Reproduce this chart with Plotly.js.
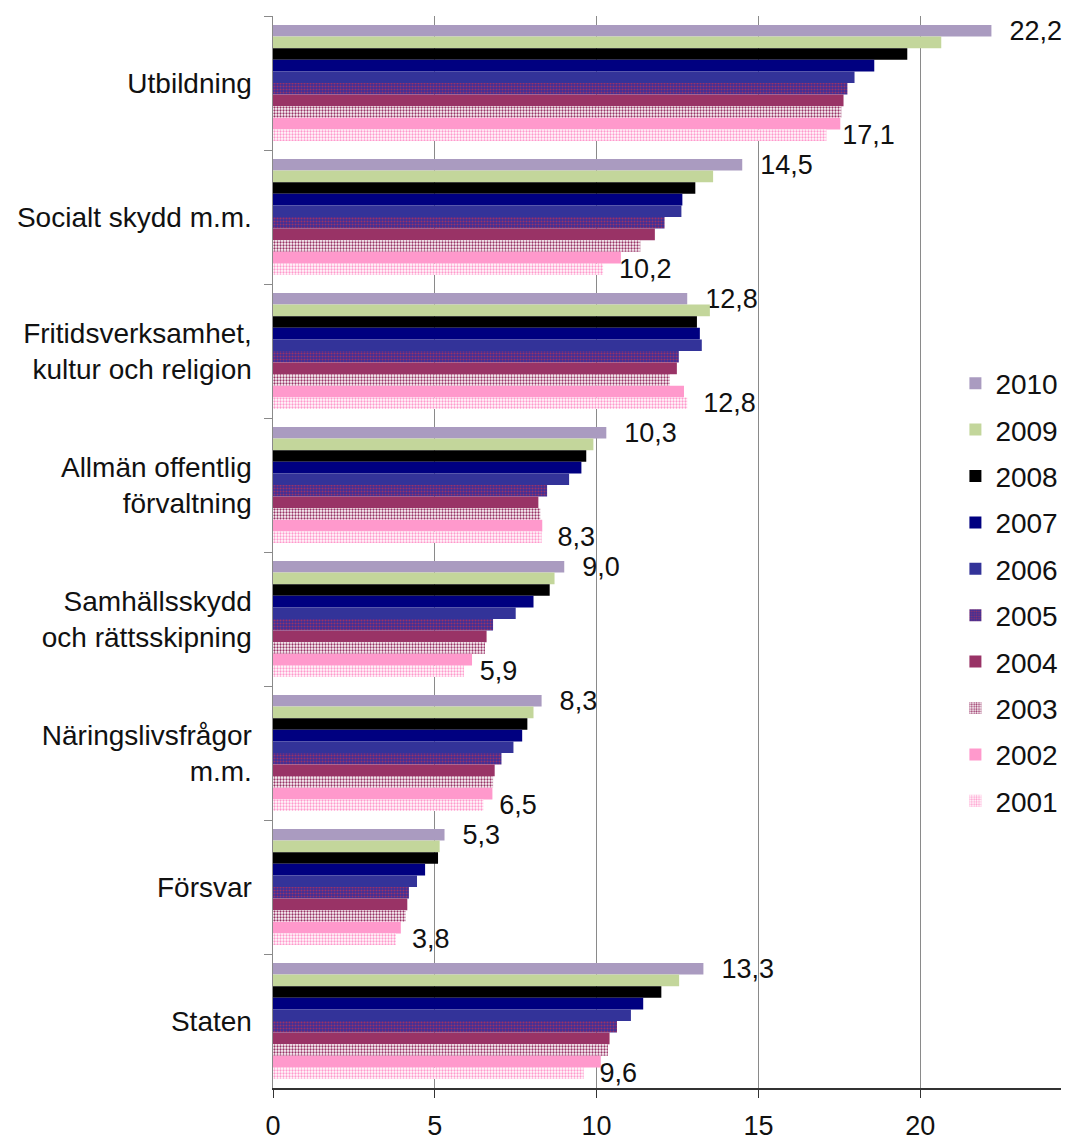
<!DOCTYPE html>
<html>
<head>
<meta charset="utf-8">
<script src="https://cdn.plot.ly/plotly-3.0.1.min.js"></script>
<style>html,body{margin:0;padding:0;background:#fff;}#chart{width:1066px;height:1145px;}</style>
</head>
<body>
<div id="chart"></div>
<script>
const categories = ["Utbildning", "Socialt skydd m.m.", "Fritidsverksamhet,<br>kultur och religion", "Allmän offentlig<br>förvaltning", "Samhällsskydd<br>och rättsskipning", "Näringslivsfrågor<br>m.m.", "Försvar", "Staten"];
const years = ["2010", "2009", "2008", "2007", "2006", "2005", "2004", "2003", "2002", "2001"];

const v2010 = [22.2, 14.5, 12.8, 10.3, 9.0, 8.3, 5.3, 13.3];
const v2009 = [20.65, 13.6, 13.5, 9.9, 8.7, 8.05, 5.15, 12.55];
const v2008 = [19.6, 13.05, 13.1, 9.68, 8.55, 7.86, 5.1, 12.0];
const v2007 = [18.58, 12.65, 13.19, 9.53, 8.05, 7.7, 4.7, 11.44];
const v2006 = [17.97, 12.62, 13.25, 9.15, 7.5, 7.43, 4.45, 11.06];
const v2005 = [17.75, 12.1, 12.54, 8.47, 6.8, 7.06, 4.2, 10.63];
const v2004 = [17.63, 11.8, 12.48, 8.2, 6.6, 6.85, 4.15, 10.4];
const v2003 = [17.56, 11.35, 12.26, 8.26, 6.55, 6.8, 4.1, 10.35];
const v2002 = [17.53, 10.75, 12.7, 8.32, 6.15, 6.78, 3.95, 10.13];
const v2001 = [17.1, 10.2, 12.8, 8.3, 5.9, 6.5, 3.8, 9.6];

const seriesValues = [v2010, v2009, v2008, v2007, v2006, v2005, v2004, v2003, v2002, v2001];
const colors = ["#AA9BC0", "#C3D69B", "#000000", "#000080", "#333399", "#663399", "#993366", "#993366", "#FF99CC", "#FF99CC"];
const patterns = [null, null, null, null, null,
  {shape: ".", fgcolor: "#993366", bgcolor: "#3d2f99", size: 3, solidity: 0.4},
  null,
  {shape: ".", fgcolor: "#993366", bgcolor: "#ffffff", size: 3, solidity: 0.45},
  null,
  {shape: ".", fgcolor: "#FF99CC", bgcolor: "#ffffff", size: 3, solidity: 0.45}];

function fmt(v) { return v.toFixed(1).replace(".", ","); }

const traces = years.map((yr, i) => {
  const vals = seriesValues[i];
  let text = null;
  if (i === 0) text = vals.map(v => "\u00a0\u00a0" + fmt(v));
  if (i === years.length - 1) text = vals.map(v => "\u00a0\u2009" + fmt(v));
  const marker = {color: colors[i], line: {width: 0}};
  if (patterns[i]) marker.pattern = patterns[i];
  const t = {
    type: "bar",
    orientation: "h",
    name: yr,
    legendgroup: yr,
    x: vals,
    y: categories,
    marker: marker,
    cliponaxis: false,
    hoverinfo: "x+name"
  };
  if (text) {
    t.text = text;
    t.textposition = "outside";
    t.constraintext = "none";
    t.textfont = {size: 27, color: "#111", family: "Liberation Sans, Arial, sans-serif"};
  } else {
    t.textposition = "none";
  }
  return t;
});

const layout = {
  width: 1066,
  height: 1145,
  margin: {l: 273, r: 3, t: 16, b: 57},
  paper_bgcolor: "#ffffff",
  plot_bgcolor: "#ffffff",
  font: {family: "Liberation Sans, Arial, sans-serif", size: 28, color: "#111"},
  barmode: "group",
  bargap: 0.134,
  bargroupgap: 0,
  showlegend: true,
  legend: {
    x: 0.866, xanchor: "left",
    y: 0.4627, yanchor: "middle",
    font: {size: 28, color: "#111"},
    tracegroupgap: 7,
    traceorder: "grouped",
    bgcolor: "rgba(0,0,0,0)"
  },
  xaxis: {
    range: [0, 24.35],
    dtick: 5,
    tick0: 0,
    showgrid: true,
    gridcolor: "#8a8a8a",
    gridwidth: 1,
    zeroline: false,
    showline: true,
    linecolor: "#333333",
    linewidth: 1.5,
    ticks: "outside",
    ticklen: 8,
    tickcolor: "#333333",
    tickfont: {size: 27, color: "#111"},
    ticklabelstandoff: 5,
    fixedrange: true
  },
  yaxis: {
    autorange: "reversed",
    type: "category",
    showgrid: false,
    zeroline: false,
    showline: true,
    linecolor: "#8a8a8a",
    linewidth: 1.5,
    ticks: "outside",
    tickson: "boundaries",
    ticklen: 8,
    tickcolor: "#8a8a8a",
    tickfont: {size: 28, color: "#111"},
    ticklabelstandoff: 14,
    fixedrange: true
  }
};

Plotly.newPlot("chart", traces, layout, {displayModeBar: false, staticPlot: true});
</script>
</body>
</html>
